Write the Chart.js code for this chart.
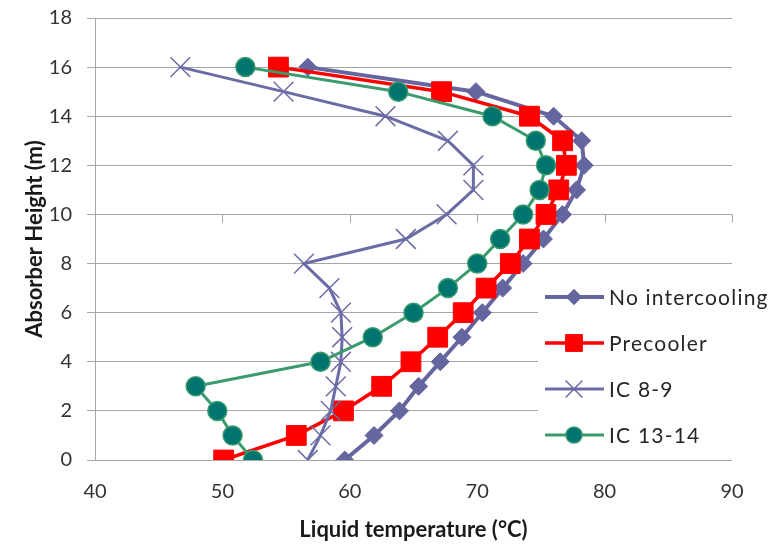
<!DOCTYPE html>
<html lang="en">
<head>
    <meta charset="UTF-8">
    <title>Absorber liquid temperature</title>
    <script src="https://cdn.jsdelivr.net/npm/chart.js"></script>
    <style>
        body {
            margin: 0;
            background: #fff;
        }
        canvas {
            display: block;
        }
    </style>
</head>
<body>
    <canvas id="tempChart" width="775" height="550"></canvas>

    <script>
        // Absorber height (m) for each measured point
        const heights = [0, 1, 2, 3, 4, 5, 6, 7, 8, 9, 10, 11, 12, 13, 14, 15, 16];

        // Liquid temperature (°C) per series
        const noIntercooling = [59.6, 61.9, 63.9, 65.4, 67.1, 68.8, 70.4, 72.0, 73.6, 75.2, 76.7, 77.8, 78.4, 78.2, 76.0, 69.9, 56.7];
        const precooler      = [50.1, 55.8, 59.5, 62.5, 64.8, 66.9, 68.9, 70.7, 72.6, 74.1, 75.4, 76.4, 77.0, 76.7, 74.1, 67.2, 54.4];
        const ic89           = [56.7, 57.7, 58.5, 58.9, 59.3, 59.4, 59.3, 58.4, 56.4, 64.4, 67.6, 69.7, 69.7, 67.7, 62.8, 54.8, 46.7];
        const ic1314         = [52.4, 50.8, 49.6, 47.9, 57.7, 61.8, 65.0, 67.7, 70.0, 71.8, 73.6, 74.9, 75.4, 74.6, 71.2, 63.8, 51.8];

        const seriesNames = ['No intercooling', 'Precooler', 'IC 8-9', 'IC 13-14'];

        const xTicks = [40, 50, 60, 70, 80, 90];
        const yTicks = [0, 2, 4, 6, 8, 10, 12, 14, 16, 18];

        const gridGrey = '#a6a6a6';
        const textGrey = '#333333';

        function punkter(temps) {
            return temps.map((t, i) => ({ x: t, y: heights[i] }));
        }

        // x axis crosses at height 10 in the original, only its tick marks show
        const kryssAkse = {
            id: 'kryssAkse',
            afterDraw(chart) {
                const ctx = chart.ctx;
                const xs = chart.scales.x;
                const y10 = chart.scales.y.getPixelForValue(10);
                ctx.save();
                ctx.strokeStyle = gridGrey;
                ctx.lineWidth = 1;
                xTicks.slice(1).forEach(v => {
                    const px = Math.round(xs.getPixelForValue(v)) + 0.5;
                    ctx.beginPath();
                    ctx.moveTo(px, y10);
                    ctx.lineTo(px, y10 + 8);
                    ctx.stroke();
                });
                ctx.restore();
            }
        };

        // legend box sitting inside the plot, lower right
        const boksLegend = {
            id: 'boksLegend',
            afterDatasetsDraw(chart) {
                const ctx = chart.ctx;
                ctx.save();
                ctx.fillStyle = '#ffffff';
                ctx.fillRect(538, 272, 237, 183);

                seriesNames.forEach((navn, i) => {
                    const ds = chart.data.datasets[i];
                    const y = 297 + i * 46;

                    ctx.strokeStyle = ds.borderColor;
                    ctx.lineWidth = ds.borderWidth;
                    ctx.beginPath();
                    ctx.moveTo(545, y);
                    ctx.lineTo(604, y);
                    ctx.stroke();

                    ctx.fillStyle = ds.pointBackgroundColor;
                    ctx.strokeStyle = ds.pointBorderColor;
                    ctx.lineWidth = ds.pointBorderWidth;
                    Chart.helpers.drawPoint(ctx, {
                        pointStyle: ds.pointStyle,
                        radius: ds.pointRadius * 0.85,
                        borderWidth: ds.pointBorderWidth,
                        rotation: 0
                    }, 574, y);

                    ctx.fillStyle = '#262626';
                    ctx.font = '21px Lato';
                    ctx.letterSpacing = '1.2px';
                    ctx.textAlign = 'left';
                    ctx.textBaseline = 'middle';
                    ctx.fillText(navn, 609, y + 1);
                });
                ctx.restore();
            }
        };

        new Chart(document.getElementById('tempChart'), {
            type: 'scatter',
            data: {
                datasets: [{
                    label: seriesNames[0],
                    data: punkter(noIntercooling),
                    showLine: true,
                    borderColor: '#65659f',
                    borderWidth: 4,
                    pointStyle: 'rectRot',
                    pointRadius: 9,
                    pointBackgroundColor: '#65659f',
                    pointBorderColor: '#65659f',
                    pointBorderWidth: 1,
                    order: 4
                }, {
                    label: seriesNames[1],
                    data: punkter(precooler),
                    showLine: true,
                    borderColor: '#ff0000',
                    borderWidth: 3.5,
                    pointStyle: 'rect',
                    pointRadius: 14,
                    pointBackgroundColor: '#ff0000',
                    pointBorderColor: '#ff0000',
                    pointBorderWidth: 1,
                    order: 3
                }, {
                    label: seriesNames[2],
                    data: punkter(ic89),
                    showLine: true,
                    borderColor: '#6b6ba6',
                    borderWidth: 3,
                    pointStyle: 'crossRot',
                    pointRadius: 14,
                    pointBackgroundColor: '#6b6ba6',
                    pointBorderColor: '#6b6ba6',
                    pointBorderWidth: 1.5,
                    order: 2
                }, {
                    label: seriesNames[3],
                    data: punkter(ic1314),
                    showLine: true,
                    borderColor: '#3a9b6c',
                    borderWidth: 3,
                    pointStyle: 'circle',
                    pointRadius: 9.5,
                    pointBackgroundColor: '#00756f',
                    pointBorderColor: '#3a9b6c',
                    pointBorderWidth: 1.5,
                    order: 1
                }]
            },
            options: {
                responsive: false,
                animation: false,
                devicePixelRatio: 1,
                layout: {
                    padding: { top: 18, right: 43, left: 0, bottom: 0 }
                },
                plugins: {
                    legend: { display: false },
                    tooltip: { enabled: false }
                },
                scales: {
                    x: {
                        type: 'linear',
                        min: 40,
                        max: 90,
                        afterBuildTicks: s => { s.ticks = xTicks.map(v => ({ value: v })); },
                        afterFit: s => { s.height = 90; },
                        grid: { display: false, drawTicks: false },
                        border: { display: false },
                        ticks: {
                            padding: 20,
                            color: textGrey,
                            font: { family: 'Lato', size: 20 }
                        },
                        title: {
                            display: true,
                            text: 'Liquid temperature (°C)',
                            color: '#1a1a1a',
                            font: { family: 'Lato', size: 22, weight: 'bold' },
                            padding: { top: 0, bottom: 7 }
                        }
                    },
                    y: {
                        type: 'linear',
                        min: 0,
                        max: 18,
                        afterBuildTicks: s => { s.ticks = yTicks.map(v => ({ value: v })); },
                        afterFit: s => {
                            s.width = 95;
                            s.paddingTop = 0;
                            s.paddingBottom = 0;
                        },
                        grid: {
                            color: gridGrey,
                            lineWidth: 1,
                            tickLength: 8
                        },
                        border: { display: true, color: gridGrey, width: 1 },
                        ticks: {
                            padding: 15,
                            color: textGrey,
                            font: { family: 'Lato', size: 20 }
                        },
                        title: {
                            display: true,
                            text: 'Absorber Height (m)',
                            color: '#1a1a1a',
                            font: { family: 'Lato', size: 22, weight: 'bold' },
                            padding: { top: 22, bottom: 0 }
                        }
                    }
                }
            },
            plugins: [kryssAkse, boksLegend]
        });
    </script>
</body>
</html>
